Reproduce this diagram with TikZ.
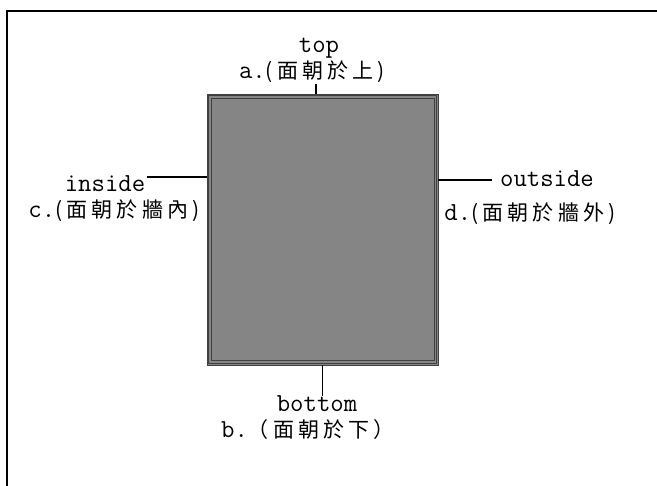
\documentclass[tikz,border=0pt]{standalone}
\usepackage{fontspec}
\setmainfont{Latin Modern Mono}
\newfontfamily\cjk[LetterSpace=20]{Noto Sans CJK TC}
\newcommand{\zh}[1]{{\cjk\fontsize{21}{23}\selectfont #1}}

\tikzset{
  lbl/.style={font=\fontsize{26}{28}\selectfont, inner sep=0pt, anchor=base},
  lead/.style={line width=1.3pt},
  rim/.style={draw=black!75, line width=0.8pt},
}

\begin{document}
\begin{tikzpicture}[x=1pt, y=-1pt]
  \useasboundingbox (0,0) rectangle (657,486);
  % outer frame (left and top edge only)
  \draw[line width=2.2pt] (7,486) -- (7,11) -- (657,11);
  % the panel, with its two inner rims
  \node (box) [rim, fill=black!48, minimum width=231pt, minimum height=271pt,
               inner sep=0pt] at (322.5,229.5) {};
  \draw[rim] ([shift={(2,2)}]box.north west) rectangle ([shift={(-2,-2)}]box.south east);
  \draw[rim] ([shift={(4.5,4.5)}]box.north west) rectangle ([shift={(-4.5,-4.5)}]box.south east);
  % labels
  \node (top) [lbl] at (319,53) {top};
  \node (a)   [lbl] at (312,79) {a.\zh{(面朝於上)}};
  \node (bot) [lbl] at (317,412) {bottom};
  \node (b)   [lbl] at (308,438) {b.\zh{（面朝於下）}};
  \node (ins) [lbl] at (105,192) {inside};
  \node (c)   [lbl] at (114,218) {c.\zh{(面朝於牆內)}};
  \node (outs) [lbl] at (547,187) {outside};
  \node (d)   [lbl] at (530,221) {d.\zh{(面朝於牆外)}};
  % leaders
  \coordinate (topend) at (316,84);
  \draw[lead] (topend) -- (topend |- box.north);
  \draw[lead] (box.south) -- (box.south |- bot.north);
  \draw[lead] (ins.east) ++(2,-7) coordinate (insend) -- (insend -| box.west);
  \draw[lead] (outs.west) ++(-8,1) coordinate (outend) -- (outend -| box.east);
\end{tikzpicture}
\end{document}
